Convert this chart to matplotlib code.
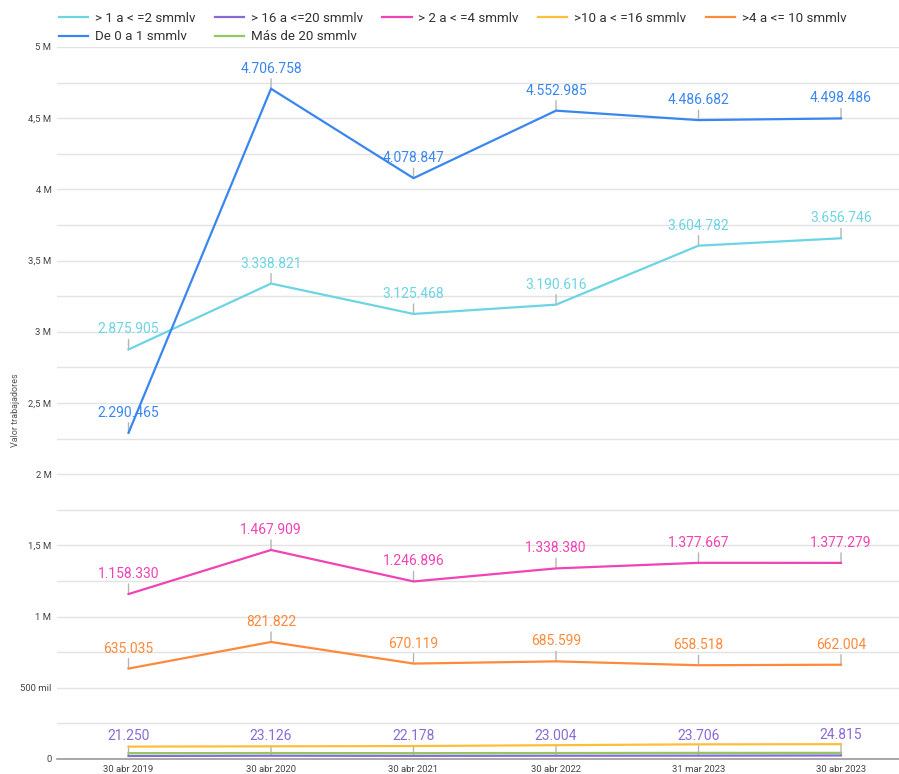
import matplotlib
matplotlib.use("Agg")
import matplotlib.pyplot as plt
from matplotlib.ticker import FixedLocator, MultipleLocator

plt.rcParams['font.family'] = ['Roboto', 'DejaVu Sans']

categories = ["30 abr 2019", "30 abr 2020", "30 abr 2021", "30 abr 2022", "31 mar 2023", "30 abr 2023"]

s_1_2 = [2875905, 3338821, 3125468, 3190616, 3604782, 3656746]
s_16_20 = [21250, 23126, 22178, 23004, 23706, 24815]
s_2_4 = [1158330, 1467909, 1246896, 1338380, 1377667, 1377279]
s_10_16 = [87000, 89000, 91000, 97000, 103000, 104000]
s_4_10 = [635035, 821822, 670119, 685599, 658518, 662004]
s_0_1 = [2290465, 4706758, 4078847, 4552985, 4486682, 4498486]
s_20 = [41000, 42000, 41000, 42000, 43000, 43000]

names = ["> 1 a < =2 smmlv", "> 16 a <=20 smmlv", "> 2 a < =4 smmlv", ">10 a < =16 smmlv",
         ">4 a <= 10 smmlv", "De 0 a 1 smmlv", "Más de 20 smmlv"]
series = [s_1_2, s_16_20, s_2_4, s_10_16, s_4_10, s_0_1, s_20]
colors = ["#6dd4e4", "#8a6bd6", "#f043b4", "#fcbf3c", "#fd8a3a", "#3a86ef", "#93c760"]
labeled = [True, True, True, False, True, True, False]

ytick_vals = [0, 500000, 1000000, 1500000, 2000000, 2500000, 3000000, 3500000, 4000000, 4500000, 5000000]
ytick_text = ["0", "500 mil", "1 M", "1,5 M", "2 M", "2,5 M", "3 M", "3,5 M", "4 M", "4,5 M", "5 M"]

W, H = 899, 774
fig = plt.figure(figsize=(W / 100, H / 100), dpi=100)
ax = fig.add_axes([57 / W, 1 - 759 / H, (W - 57) / W, (759 - 47) / H])

x = list(range(len(categories)))
handles = []
for name, vals, col, lab in zip(names, series, colors, labeled):
    ln, = ax.plot(x, vals, color=col, lw=1.6, label=name, zorder=3, solid_joinstyle='miter')
    handles.append(ln)
    if lab:
        for xi, v in zip(x, vals):
            ax.annotate('', xy=(xi, v), xytext=(0, 10), textcoords='offset pixels',
                        arrowprops=dict(arrowstyle='-', color='#b5b5b5', lw=1, shrinkA=0, shrinkB=0),
                        zorder=2)
            ax.annotate(f"{v:,}".replace(',', '.'), xy=(xi, v), xytext=(0, 13),
                        textcoords='offset pixels', ha='center', va='bottom',
                        fontsize=10, color=col, zorder=4)

ax.set_xlim(-0.502, 5.407)
ax.set_ylim(0, 5000000)
ax.set_xticks(x)
ax.set_xticklabels(categories, fontsize=6.8, color='#444444')
ax.yaxis.set_major_locator(FixedLocator(ytick_vals))
ax.set_yticklabels(ytick_text, fontsize=6.8, color='#444444')
ax.yaxis.set_minor_locator(MultipleLocator(250000))
ax.tick_params(axis='both', which='both', length=0)
ax.tick_params(axis='x', pad=4)
ax.tick_params(axis='y', pad=4)
ax.grid(True, which='both', axis='y', color='#e3e3e3', lw=1)
ax.set_axisbelow(True)
for s in ['top', 'right', 'left']:
    ax.spines[s].set_visible(False)
ax.spines['bottom'].set_color('#9a9a9a')
ax.spines['bottom'].set_linewidth(1.2)
ax.set_ylabel("Valor trabajadores", fontsize=6.5, color='#555555')
ax.yaxis.set_label_coords(-0.044, 0.49)

order = [0, 5, 1, 6, 2, 3, 4]
leg = fig.legend([handles[i] for i in order], [names[i] for i in order],
                 loc='upper left', bbox_to_anchor=(55 / W, 1 - 8 / H), ncol=5,
                 frameon=False, fontsize=9.6, handlelength=2.2, handletextpad=0.5,
                 columnspacing=1.45, labelspacing=0.4, borderaxespad=0, borderpad=0.3)
for t in leg.get_texts():
    t.set_color('#333333')

fig.savefig("out.png", dpi=100, facecolor='white')
